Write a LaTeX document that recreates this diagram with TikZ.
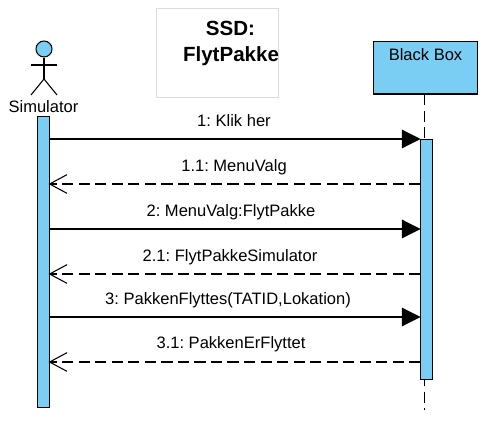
\documentclass[tikz,border=0pt]{standalone}
\usepackage{fontspec}
\setmainfont{Liberation Sans}
\usetikzlibrary{arrows.meta}
\definecolor{barblue}{HTML}{7ACEF4}
\definecolor{notegray}{HTML}{DCDCDC}
\frenchspacing
\tikzset{
  bar/.style={rectangle, fill=barblue, draw=black, line width=0.8pt, minimum width=9pt, inner sep=0pt},
  msgtext/.style={font=\fontsize{12.4pt}{14pt}\selectfont, inner sep=0pt},
  call/.style={line width=0.8pt, -{Triangle[length=14pt,width=14pt]}},
  reply/.style={line width=0.8pt, dash pattern=on 8.4pt off 4pt, -{Straight Barb[length=13pt,width=14pt,line width=0.8pt]}},
  lifeline/.style={line width=0.8pt, dash pattern=on 8.4pt off 4pt},
  stick/.style={line width=0.8pt}
}
\begin{document}
\frenchspacing
\begin{tikzpicture}[x=0.75pt,y=-0.75pt]
\useasboundingbox (0,0) rectangle (491,423);
\node [rectangle, draw=notegray, line width=0.75pt, minimum width=91.5pt, minimum height=67pt, inner sep=0pt] (notebox) at (217.25,53.25) {};
\node [font=\bfseries\fontsize{15.4pt}{18pt}\selectfont, inner sep=0pt] (notetop) at (230.5,28) {SSD:};
\node [font=\bfseries\fontsize{15.4pt}{18pt}\selectfont, inner sep=0pt] (notebot) at (231,56) {FlytPakke};
\node [circle, fill=barblue, draw=black, line width=0.8pt, minimum size=12pt, inner sep=0pt] (head) at (44,49) {};
\coordinate (hip) at (44,79);
\coordinate (handl) at (31,65);
\coordinate (handr) at (57,65);
\coordinate (footl) at (31,95);
\coordinate (footr) at (57,95);
\draw [stick] (head.south) -- (hip);
\draw [stick] (handl) -- (handr);
\draw [stick] (footl) -- (hip) -- (footr);
\node [msgtext] (simname) at (43.5,107) {Simulator};
\node [rectangle, fill=barblue, draw=black, line width=0.8pt, minimum width=78pt, minimum height=39.5pt, inner sep=0pt] (blackbox) at (425.5,67.7) {};
\node [msgtext] (boxname) at (425.5,54.5) {Black Box};
\coordinate (boxend) at (424.5,410);
\coordinate (boxtop) at (424.5,94);
\draw [lifeline] (boxtop) -- (boxend);
\node [bar, minimum height=218pt] (simbar) at (43.5,262) {};
\node [bar, minimum height=180pt] (boxbar) at (426.5,259.5) {};
\coordinate (a1) at (49.5,139);
\coordinate (b1) at (420.5,139);
\coordinate (a2) at (48.5,184);
\coordinate (b2) at (420.5,184);
\coordinate (a3) at (49.5,229);
\coordinate (b3) at (420.5,229);
\coordinate (a4) at (48.5,274);
\coordinate (b4) at (420.5,274);
\coordinate (a5) at (49.5,317);
\coordinate (b5) at (420.5,317);
\coordinate (a6) at (48.5,362);
\coordinate (b6) at (420.5,362);
\draw [call] (a1) -- (b1);
\draw [reply] (b2) -- (a2);
\draw [call] (a3) -- (b3);
\draw [reply] (b4) -- (a4);
\draw [call] (a5) -- (b5);
\draw [reply] (b6) -- (a6);
\node [msgtext] (msg1) at (234,121) {1: Klik her};
\node [msgtext] (msg2) at (234,167.5) {1.1: MenuValg};
\node [msgtext] (msg3) at (231,212) {2: MenuValg:FlytPakke};
\node [msgtext] (msg4) at (230,257) {2.1: FlytPakkeSimulator};
\node [msgtext] (msg5) at (228,300) {3: PakkenFlyttes(TATID,Lokation)};
\node [msgtext] (msg6) at (231,344) {3.1: PakkenErFlyttet};
\end{tikzpicture}
\end{document}
